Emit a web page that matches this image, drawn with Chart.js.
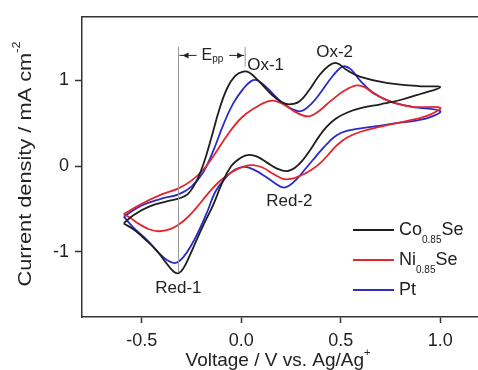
<!DOCTYPE html>
<html>
<head>
<meta charset="utf-8">
<script src="https://cdn.jsdelivr.net/npm/chart.js@4.4.1/dist/chart.umd.min.js"></script>
<style>
  html, body { margin: 0; padding: 0; background: #fff; }
  #wrap { width: 478px; height: 370px; position: relative; }
</style>
</head>
<body>
<div id="wrap"><canvas id="cvChart"></canvas></div>
<script>
// series names, split as [main, subscript, rest]
const seriesNames = [['Co', '0.85', 'Se'], ['Ni', '0.85', 'Se'], ['Pt', '', '']];
const seriesColors = ['#1e1e1e', '#e3262d', '#2b2bc6'];

// Co0.85Se loop: forward scan -0.6 -> 1.0 V, then back
const coVoltage = [-0.59, -0.54, -0.46, -0.37, -0.315, -0.27, -0.23, -0.19, -0.15, -0.11, -0.07, -0.03, 0.01, 0.04, 0.08, 0.15, 0.20, 0.24, 0.29, 0.34, 0.39, 0.44, 0.48, 0.53, 0.60, 0.73, 0.90, 1.0,
                   0.90, 0.80, 0.70, 0.61, 0.54, 0.48, 0.43, 0.39, 0.35, 0.31, 0.27, 0.23, 0.18, 0.13, 0.08, 0.04, 0.0, -0.05, -0.10, -0.14, -0.18, -0.22, -0.26, -0.29, -0.315, -0.34, -0.38, -0.43, -0.49, -0.54, -0.59];
const coCurrent = [-0.67, -0.57, -0.47, -0.41, -0.38, -0.33, -0.20, 0.02, 0.33, 0.66, 0.91, 1.05, 1.10, 1.09, 1.01, 0.84, 0.75, 0.72, 0.75, 0.88, 1.05, 1.17, 1.20, 1.12, 1.04, 0.97, 0.93, 0.92,
                   0.84, 0.77, 0.72, 0.68, 0.63, 0.56, 0.46, 0.34, 0.20, 0.07, -0.02, -0.06, -0.03, 0.04, 0.11, 0.13, 0.10, 0.0, -0.22, -0.45, -0.64, -0.84, -1.05, -1.19, -1.25, -1.23, -1.12, -0.97, -0.84, -0.74, -0.67];

// Ni0.85Se loop
const niVoltage = [-0.59, -0.50, -0.40, -0.315, -0.25, -0.19, -0.13, -0.07, 0.0, 0.07, 0.13, 0.17, 0.22, 0.28, 0.34, 0.39, 0.45, 0.52, 0.58, 0.62, 0.67, 0.75, 0.86, 1.0,
                   0.95, 0.88, 0.80, 0.70, 0.60, 0.53, 0.48, 0.44, 0.40, 0.35, 0.30, 0.25, 0.21, 0.16, 0.11, 0.06, 0.02, -0.04, -0.11, -0.17, -0.23, -0.29, -0.35, -0.41, -0.46, -0.51, -0.56, -0.59];
const niCurrent = [-0.56, -0.44, -0.33, -0.26, -0.17, -0.04, 0.15, 0.36, 0.56, 0.68, 0.75, 0.76, 0.71, 0.62, 0.58, 0.64, 0.76, 0.88, 0.94, 0.92, 0.84, 0.75, 0.69, 0.68,
                   0.60, 0.55, 0.51, 0.46, 0.40, 0.33, 0.24, 0.14, 0.04, -0.05, -0.11, -0.15, -0.15, -0.09, -0.02, 0.01, 0.0, -0.06, -0.18, -0.33, -0.50, -0.64, -0.73, -0.76, -0.74, -0.68, -0.60, -0.56];

// Pt loop
const ptVoltage = [-0.59, -0.50, -0.40, -0.315, -0.25, -0.19, -0.14, -0.09, -0.04, 0.01, 0.05, 0.08, 0.13, 0.20, 0.25, 0.30, 0.35, 0.40, 0.46, 0.51, 0.55, 0.60, 0.66, 0.75, 0.86, 1.0,
                   0.95, 0.88, 0.78, 0.70, 0.60, 0.53, 0.48, 0.44, 0.40, 0.36, 0.32, 0.28, 0.24, 0.21, 0.17, 0.12, 0.07, 0.02, -0.03, -0.08, -0.13, -0.17, -0.21, -0.25, -0.29, -0.33, -0.37, -0.42, -0.47, -0.54, -0.59];
const ptCurrent = [-0.59, -0.46, -0.38, -0.33, -0.24, -0.07, 0.18, 0.48, 0.73, 0.90, 0.99, 1.00, 0.91, 0.75, 0.67, 0.64, 0.72, 0.86, 1.05, 1.16, 1.13, 0.99, 0.86, 0.75, 0.69, 0.64,
                   0.57, 0.53, 0.50, 0.47, 0.44, 0.41, 0.36, 0.28, 0.18, 0.07, -0.04, -0.15, -0.23, -0.25, -0.20, -0.12, -0.05, -0.01, -0.04, -0.14, -0.30, -0.53, -0.74, -0.92, -1.06, -1.13, -1.10, -1.00, -0.87, -0.72, -0.59];

const xTicks = [-0.5, 0.0, 0.5, 1.0];
const yTicks = [-1, 0, 1];

// peak labels and the E_pp marker (data coordinates)
const peakLabels = [
  { text: 'Ox-1', x: 0.03, y: 1.17 },
  { text: 'Ox-2', x: 0.377, y: 1.33 },
  { text: 'Red-1', x: -0.432, y: -1.43 },
  { text: 'Red-2', x: 0.126, y: -0.41 }
];
const eppLeft = -0.315, eppRight = 0.02;

const FONT = '"Liberation Sans", Arial, sans-serif';
const INK = '#222';

const toPoints = (xs, ys) => xs.map((v, i) => ({ x: v, y: ys[i] }));
const loops = [toPoints(coVoltage, coCurrent), toPoints(niVoltage, niCurrent), toPoints(ptVoltage, ptCurrent)];

const decorPlugin = {
  id: 'decor',
  afterDraw(chart) {
    const ctx = chart.ctx;
    const area = chart.chartArea;
    const xs = chart.scales.x, ys = chart.scales.y;
    ctx.save();

    // top frame line
    ctx.strokeStyle = '#333';
    ctx.lineWidth = 1.5;
    ctx.beginPath();
    ctx.moveTo(area.left, area.top);
    ctx.lineTo(area.right, area.top);
    ctx.stroke();

    // E_pp marker
    const xl = xs.getPixelForValue(eppLeft), xr = xs.getPixelForValue(eppRight);
    ctx.strokeStyle = '#999';
    ctx.lineWidth = 1;
    ctx.beginPath();
    ctx.moveTo(xl, ys.getPixelForValue(1.39));
    ctx.lineTo(xl, ys.getPixelForValue(-1.24));
    ctx.moveTo(xr, ys.getPixelForValue(1.39));
    ctx.lineTo(xr, ys.getPixelForValue(1.16));
    ctx.stroke();
    const ay = ys.getPixelForValue(1.29);
    ctx.strokeStyle = INK;
    ctx.fillStyle = INK;
    ctx.beginPath();
    ctx.moveTo(xl + 1, ay); ctx.lineTo(xl + 18, ay);
    ctx.moveTo(xr - 1, ay); ctx.lineTo(xr - 16, ay);
    ctx.stroke();
    ctx.beginPath();
    ctx.moveTo(xl + 4, ay); ctx.lineTo(xl + 10, ay - 3); ctx.lineTo(xl + 10, ay + 3); ctx.closePath();
    ctx.moveTo(xr - 2, ay); ctx.lineTo(xr - 8, ay - 3); ctx.lineTo(xr - 8, ay + 3); ctx.closePath();
    ctx.fill();
    ctx.textBaseline = 'middle';
    ctx.textAlign = 'left';
    ctx.font = '16px ' + FONT;
    ctx.fillText('E', xl + 23, ay);
    const ew = ctx.measureText('E').width;
    ctx.font = '10px ' + FONT;
    ctx.fillText('pp', xl + 23 + ew, ay + 4);

    // peak labels
    ctx.font = '17px ' + FONT;
    peakLabels.forEach(p => ctx.fillText(p.text, xs.getPixelForValue(p.x), ys.getPixelForValue(p.y)));

    // legend
    const rows = [230, 260, 290];
    seriesNames.forEach((parts, i) => {
      ctx.strokeStyle = seriesColors[i];
      ctx.lineWidth = 1.8;
      ctx.beginPath();
      ctx.moveTo(353, rows[i]);
      ctx.lineTo(394, rows[i]);
      ctx.stroke();
      ctx.fillStyle = INK;
      let x = 399;
      ctx.font = '18px ' + FONT;
      ctx.fillText(parts[0], x, rows[i]);
      x += ctx.measureText(parts[0]).width;
      if (parts[1]) {
        ctx.font = '10px ' + FONT;
        ctx.fillText(parts[1], x, rows[i] + 10);
        x += ctx.measureText(parts[1]).width;
        ctx.font = '18px ' + FONT;
        ctx.fillText(parts[2], x, rows[i]);
      }
    });

    // x axis title
    ctx.fillStyle = INK;
    ctx.font = '19px ' + FONT;
    const xMain = 'Voltage / V vs. Ag/Ag';
    const xw = ctx.measureText(xMain).width;
    ctx.font = '11px ' + FONT;
    const xsw = ctx.measureText('+').width;
    const x0 = (area.left + area.right) / 2 - (xw + xsw) / 2 - 2;
    ctx.font = '19px ' + FONT;
    ctx.fillText(xMain, x0, 361);
    ctx.font = '11px ' + FONT;
    ctx.fillText('+', x0 + xw, 353);

    // y axis title (rotated)
    ctx.translate(26, 164);
    ctx.rotate(-Math.PI / 2);
    ctx.font = '19px ' + FONT;
    const yMain = 'Current density / mA cm';
    const yw = ctx.measureText(yMain).width;
    ctx.font = '11px ' + FONT;
    const ysw = ctx.measureText('-2').width;
    ctx.scale(245 / (yw + ysw), 1);
    const y0 = -(yw + ysw) / 2;
    ctx.font = '19px ' + FONT;
    ctx.fillText(yMain, y0, 0);
    ctx.font = '11px ' + FONT;
    ctx.fillText('-2', y0 + yw, -9);

    ctx.restore();
  }
};

const ctx = document.getElementById('cvChart').getContext('2d');
new Chart(ctx, {
  type: 'scatter',
  data: {
    datasets: loops.map((pts, i) => ({
      label: seriesNames[i].join(''),
      data: pts,
      showLine: true,
      borderColor: seriesColors[i],
      backgroundColor: seriesColors[i],
      borderWidth: 1.8,
      pointRadius: 0,
      tension: 0.4,
      fill: false
    }))
  },
  options: {
    responsive: true,
    maintainAspectRatio: false,
    animation: false,
    layout: { padding: { top: 13, right: 0, bottom: 0, left: 0 } },
    plugins: { legend: { display: false }, tooltip: { enabled: false } },
    scales: {
      x: {
        type: 'linear',
        min: -0.8,
        max: 1.19,
        afterFit: s => { s.height = 53; },
        afterBuildTicks: s => { s.ticks = xTicks.map(v => ({ value: v })); },
        ticks: {
          callback: v => v.toFixed(1),
          color: INK,
          font: { family: FONT, size: 18 },
          padding: 7,
          maxRotation: 0,
          autoSkip: false
        },
        grid: { drawOnChartArea: false, drawTicks: true, tickLength: 6, tickWidth: 1.5, tickColor: '#333' },
        border: { color: '#333', width: 1.5 }
      },
      y: {
        type: 'linear',
        min: -1.76,
        max: 1.74,
        afterFit: s => { s.width = 82; },
        afterBuildTicks: s => { s.ticks = yTicks.map(v => ({ value: v })); },
        ticks: {
          callback: v => String(v),
          color: INK,
          font: { family: FONT, size: 18 },
          padding: 6,
          autoSkip: false
        },
        grid: { drawOnChartArea: false, drawTicks: true, tickLength: 7, tickWidth: 1.5, tickColor: '#333' },
        border: { color: '#333', width: 1.5 }
      }
    }
  },
  plugins: [decorPlugin]
});
</script>
</body>
</html>
